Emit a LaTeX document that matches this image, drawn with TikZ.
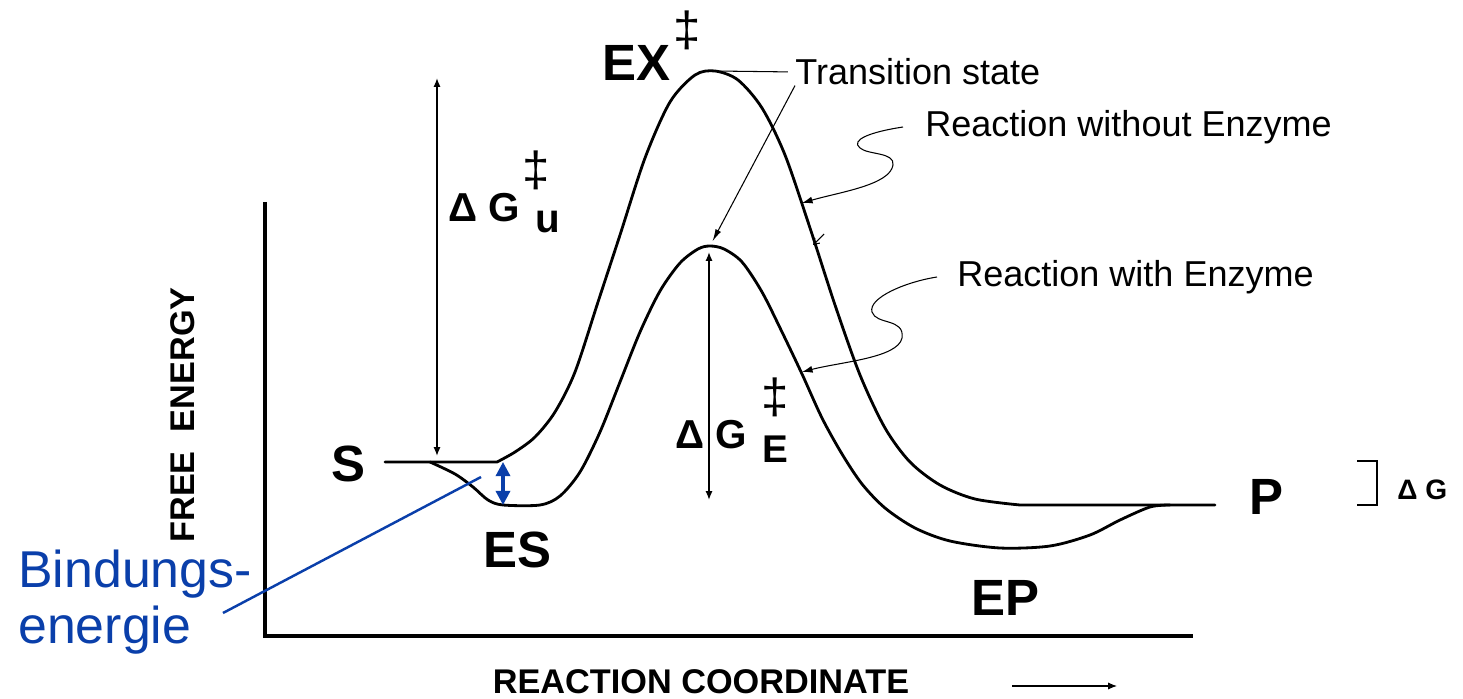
\documentclass[tikz,border=0pt]{standalone}
\usepackage{fontspec}
\setmainfont{Liberation Sans}
\usepackage{xcolor}
\definecolor{bindblue}{HTML}{0A3FAA}
\usepackage{tikz}
\usetikzlibrary{arrows.meta,positioning,calc}
\newcommand{\fsz}[1]{\fontsize{#1}{#1}\selectfont}

\begin{document}
\begin{tikzpicture}[x=0.02cm,y=-0.02cm,
  profile/.style={black,line width=1.6pt,line join=round,line cap=round},
  axisline/.style={black,line width=2.3pt},
  guide/.style={black,line width=0.6pt},
  dgarrow/.style={black,line width=0.9pt,{Latex[length=5pt,width=4pt]}-{Latex[length=5pt,width=4pt]}},
  state/.style={font=\fsz{29}\bfseries,inner sep=0pt},
  note/.style={font=\fsz{20.5},inner sep=0pt,anchor=west},
  axlabel/.style={font=\fsz{19.5}\bfseries,inner sep=0pt},
  dglabel/.style={font=\fsz{23}\bfseries,inner sep=0pt},
  ddag/.style={font=\fsz{28},inner sep=0pt},
  bind/.style={bindblue,line width=1.4pt},
  bindtext/.style={font=\fsz{29.5},text=bindblue,inner sep=0pt,anchor=base west}]
\useasboundingbox (0,0) rectangle (1463,699);
% axes
\coordinate (origin) at (265,636);
\draw[axisline] (265,202) -- (origin) -- (1193,636);
\node[axlabel,rotate=90] (yl) at (183,415) {FREE\ \ ENERGY};
\node[axlabel] (xl) at (701,682) {REACTION COORDINATE};
\coordinate (xa0) at (1012,686);
\coordinate (xa1) at (1117,686);
\draw[guide,-{Latex[length=5pt,width=4pt]}] (xa0) -- (xa1);
% reaction without enzyme
\draw[profile] (385,462) -- (497,462) -- plot[smooth] coordinates {(497,462) (515,452) (535,437)
  (555,412) (575,372) (598,302) (620,235) (645,158) (670,102) (695,75) (715,71) (738,80) (762,108)
  (785,155) (810,228) (835,305) (860,375) (885,428) (910,462) (940,485) (975,499) (1020,505)}
  -- (1215,505);
% reaction with enzyme
\draw[profile] plot[smooth] coordinates {(430,462) (455,474) (473,487) (488,500) (503,505)
  (540,505) (560,496) (580,472) (600,432) (620,382) (640,332) (660,291) (680,263) (698,249)
  (710,246) (724,249) (742,262) (762,292) (782,332) (802,374) (822,418) (842,454) (862,484)
  (885,508) (915,528) (950,541) (1000,548) (1050,546) (1090,535) (1120,520) (1150,507) (1170,505)};
\coordinate (tsu) at (715,71);
\coordinate (tse) at (710,246);
% states
\node[state] (s) at (348,464) {S};
\node[state] (ex) at (636,63) {EX};
\node[ddag] (exd) at (687,30) {‡};
\node[state] (es) at (517,550) {ES};
\node[state] (ep) at (1005,598) {EP};
\node[state] (p) at (1266,497) {P};
% activation energies
\coordinate (gu0) at (437,78);
\coordinate (gu1) at (437,456);
\draw[dgarrow] (gu0) -- (gu1);
\node[dglabel] (dgu) at (484,208) {Δ G};
\node[dglabel,anchor=base west] (dgusub) at (535,233) {u};
\node[ddag] (dgud) at (536,170) {‡};
\coordinate (ge0) at (709,252);
\coordinate (ge1) at (709,500);
\draw[dgarrow] (ge0) -- (ge1);
\node[dglabel] (dge) at (711,435) {Δ G};
\node[dglabel,font=\fsz{22}\bfseries,anchor=base west] (dgesub) at (762,462) {E};
\node[ddag] (dged) at (775,397) {‡};
% transition state
\node[note] (ts) at (795,72) {Transition state};
\draw[guide,shorten >=4pt] (tsu) -- (ts.west);
\draw[guide,shorten >=3pt,-{Latex[length=7pt,width=3.5pt]}] (ts.south west) -- (tse);
% curve notes
\node[note] (rwo) at (925,127) {Reaction without Enzyme};
\coordinate (wo1) at (802,203);
\draw[guide,-{Latex[length=6pt,width=4pt]}] ($(rwo.west)+(-22,0)$) .. controls (870,132) and (850,140) .. (860,148)
  .. controls (868,155) and (895,152) .. (893,165) .. controls (890,185) and (840,192) .. (wo1);
\coordinate (wo2) at (813,245);
\draw[guide,-{Straight Barb[length=3pt,width=4pt]}] (824,234) -- (wo2);
\node[note] (rwe) at (957,277) {Reaction with Enzyme};
\coordinate (we1) at (802,372);
\draw[guide,-{Latex[length=6pt,width=4pt]}] ($(rwe.west)+(-20,0)$) .. controls (905,282) and (868,298) .. (872,312)
  .. controls (876,325) and (905,318) .. (902,338) .. controls (898,358) and (840,362) .. (we1);
% overall free energy change
\draw[guide,line width=1.2pt] (1357,461) -- (1377,461) -- (1377,505) -- (1357,505);
\node[font=\fsz{16}\bfseries,anchor=west,inner sep=0pt] (dgp) at (1397,490) {Δ G};
% binding energy
\coordinate (bind0) at (223,613);
\coordinate (bindtip) at (481,477);
\draw[bind] (bind0) -- (bindtip);
\draw[bind,line width=1.8pt,{Triangle[length=8pt,width=8pt]}-{Triangle[length=8pt,width=8pt]}] (503,462) -- (503,505);
\node[bindtext] (bind1) at (18,587) {Bindungs-};
\node[bindtext] (bind2) at (18,643) {energie};
\end{tikzpicture}
\end{document}
